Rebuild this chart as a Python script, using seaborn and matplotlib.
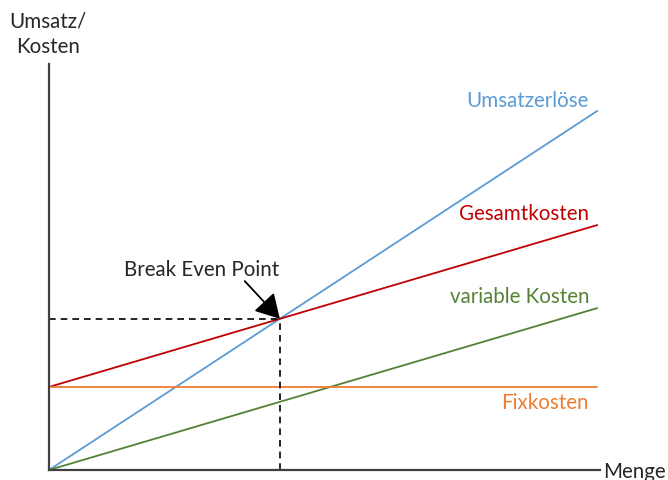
import matplotlib
matplotlib.use("Agg")
import matplotlib.pyplot as plt
import numpy as np
import pandas as pd
import seaborn as sns

# Daten
menge = [0, 10]
umsatz = [0, 8.65]
fixkosten = [2, 2]
variable_kosten = [0, 3.9]
gesamtkosten = [2, 5.9]

farben = {
    "Umsatzerlöse": "#5B9BD5",
    "Gesamtkosten": "#C00000",
    "variable Kosten": "#548235",
    "Fixkosten": "#ED7D31",
}

df = pd.DataFrame({
    "Menge": menge * 4,
    "Wert": umsatz + gesamtkosten + variable_kosten + fixkosten,
    "Kurve": ["Umsatzerlöse"] * 2 + ["Gesamtkosten"] * 2
             + ["variable Kosten"] * 2 + ["Fixkosten"] * 2,
})

sns.set_style("white")
plt.rcParams["font.family"] = ["Lato", "DejaVu Sans"]
fs = 14.8

fig = plt.figure(figsize=(6.68, 4.81), dpi=100)
ax = fig.add_axes([49 / 668, 10 / 481, 551 / 668, 406 / 481])

sns.lineplot(data=df, x="Menge", y="Wert", hue="Kurve", palette=farben,
             linewidth=1.3, legend=False, ax=ax)

# Break-Even-Punkt aus den Geraden
s_u = (umsatz[1] - umsatz[0]) / (menge[1] - menge[0])
s_g = (gesamtkosten[1] - gesamtkosten[0]) / (menge[1] - menge[0])
x_be = (gesamtkosten[0] - umsatz[0]) / (s_u - s_g)
y_be = umsatz[0] + s_u * x_be

ax.plot([0, x_be], [y_be, y_be], ls=(0, (4, 3)), color="black", lw=1.2)
ax.plot([x_be, x_be], [0, y_be], ls=(0, (4, 3)), color="black", lw=1.2)

ax.annotate("", xy=(x_be, y_be), xytext=(3.57, 4.55),
            arrowprops=dict(arrowstyle="-|>,head_length=0.7,head_width=0.4",
                            color="black", lw=1.3,
                            mutation_scale=21, shrinkA=0, shrinkB=0))
ax.text(2.79, 4.84, "Break Even Point", ha="center", va="center", fontsize=fs)

ax.text(9.85, 8.92, "Umsatzerlöse", color=farben["Umsatzerlöse"], ha="right", va="center", fontsize=fs)
ax.text(9.85, 6.19, "Gesamtkosten", color=farben["Gesamtkosten"], ha="right", va="center", fontsize=fs)
ax.text(9.85, 4.19, "variable Kosten", color=farben["variable Kosten"], ha="right", va="center", fontsize=fs)
ax.text(9.85, 1.64, "Fixkosten", color=farben["Fixkosten"], ha="right", va="center", fontsize=fs)

ax.set_xlim(0, 10.05)
ax.set_ylim(0, 9.78)
ax.set_xticks([])
ax.set_yticks([])
ax.set_xlabel("")
ax.set_ylabel("")
for s in ["top", "right"]:
    ax.spines[s].set_visible(False)
for s in ["left", "bottom"]:
    ax.spines[s].set_color("#404040")
    ax.spines[s].set_linewidth(1.6)

fig.text(48 / 668, 1 - 22 / 481, "Umsatz/", ha="center", va="center", fontsize=fs)
fig.text(48 / 668, 1 - 47 / 481, "Kosten", ha="center", va="center", fontsize=fs)
fig.text(603 / 668, 1 - 472 / 481, "Menge", ha="left", va="center", fontsize=fs)

fig.savefig("out.png", dpi=100)
